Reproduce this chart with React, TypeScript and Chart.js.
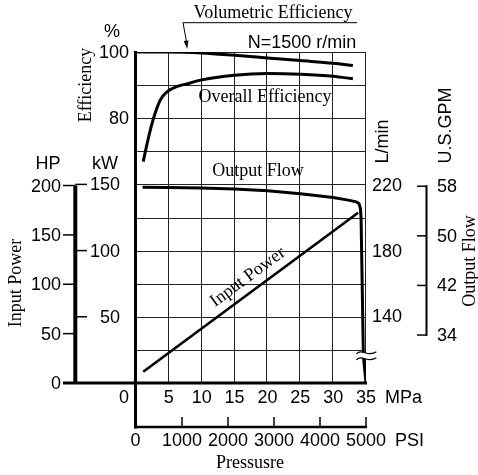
import React, { useEffect, useRef } from "react";
import { Chart, registerables } from "chart.js";

Chart.register(...registerables);

// ---------- tick labels ----------
const MPA_TICKS = [0, 5, 10, 15, 20, 25, 30, 35];
const PSI_TICKS = [0, 1000, 2000, 3000, 4000, 5000];
const EFF_GRID = [10, 20, 30, 40, 50, 60, 70, 80, 90, 100];
const EFF_TICKS = [80, 100];
const KW_TICKS = [50, 100, 150];
const HP_TICKS = [0, 50, 100, 150, 200];
const LPM_TICKS = [140, 180, 220];
const GPM_TICKS = [34, 42, 50, 58];

// ---------- series ----------
// Volumetric efficiency (%) vs pressure (MPa)
const VOL_EFF_MPA = [0, 5, 10, 15, 20, 25, 30, 33];
const VOL_EFF = [100, 100, 99.7, 99.0, 98.2, 97.4, 96.6, 95.9];

// Overall efficiency (%) vs pressure (MPa)
const OVR_EFF_MPA = [1.1, 1.7, 2.3, 3.0, 3.7, 4.75, 6.3, 8.0, 9.8, 15, 20, 25, 30, 33];
const OVR_EFF = [66.9, 72.4, 77.4, 82.0, 85.5, 88.0, 89.6, 90.5, 91.5, 93.0, 93.5, 93.3, 92.7, 91.9];

// Output flow (L/min) vs pressure (MPa)
const FLOW_MPA = [1, 5, 10, 15, 20, 25, 30, 32.5, 33.5, 33.95, 34.15, 34.25, 34.6, 35];
const FLOW_LPM = [218.9, 218.8, 218.5, 217.9, 216.8, 214.9, 212.6, 210.9, 210.0, 208.8, 206.0, 200.0, 116.0, 0];

// Input power (kW) vs pressure (MPa)
const POWER_MPA = [1.1, 33.8];
const POWER_KW = [8.5, 128.6];

// ---------- axis ranges / unit conversions ----------
const KW_PER_HP = 0.7457;
const LPM_PER_GPM = 3.785;
const KW_MAX = 250;
const FLOW_MIN = 99.4; // axis is broken below this value
const FLOW_MAX = 301.5;
const BREAK_INDEX = 12; // flow point where the axis break is drawn

const SANS = '18px "Liberation Sans", Arial, Helvetica, sans-serif';
const SERIF = '18px "Liberation Serif", "Times New Roman", Times, serif';
const INK = "#000";
const GRID = "#222";

function text(
  ctx: CanvasRenderingContext2D,
  s: string,
  x: number,
  y: number,
  font: string,
  align: CanvasTextAlign = "center",
  rot = 0
) {
  ctx.save();
  ctx.translate(x, y);
  ctx.rotate(rot);
  ctx.font = font;
  ctx.fillStyle = INK;
  ctx.textAlign = align;
  ctx.textBaseline = "middle";
  ctx.fillText(s, 0, 0);
  ctx.restore();
}

function line(ctx: CanvasRenderingContext2D, x1: number, y1: number, x2: number, y2: number, w: number) {
  ctx.beginPath();
  ctx.lineWidth = w;
  ctx.moveTo(x1, y1);
  ctx.lineTo(x2, y2);
  ctx.stroke();
}

const decor = {
  id: "decor",
  beforeDatasetsDraw(chart: any) {
    const { ctx, chartArea: a, scales } = chart;
    const xs = scales.x;
    const eff = scales.eff;
    ctx.save();
    ctx.strokeStyle = GRID;
    ctx.lineWidth = 1;
    ctx.beginPath();
    for (const v of MPA_TICKS) {
      if (v === 0) continue;
      const px = Math.round(xs.getPixelForValue(v)) - 0.5;
      ctx.moveTo(px, a.top);
      ctx.lineTo(px, a.bottom);
    }
    for (const v of EFF_GRID) {
      const py = Math.round(eff.getPixelForValue(v)) + 0.5;
      ctx.moveTo(a.left, py);
      ctx.lineTo(a.right, py);
    }
    ctx.stroke();
    ctx.restore();
  },
  afterDatasetsDraw(chart: any) {
    const { ctx, chartArea: a, scales } = chart;
    const xs = scales.x;
    const psi = scales.psi;
    const eff = scales.eff;
    const kw = scales.kw;
    const hp = scales.hp;
    const flow = scales.flow;
    const gpm = scales.gpm;
    ctx.save();
    ctx.strokeStyle = INK;
    ctx.fillStyle = INK;
    ctx.lineCap = "butt";

    const x0 = xs.getPixelForValue(0) - 0.5;
    const x35 = xs.getPixelForValue(35);
    const yBase = kw.getPixelForValue(0);
    const psiY = 427;

    // break symbol on the flow line
    {
      const bx = xs.getPixelForValue(FLOW_MPA[BREAK_INDEX]);
      const by = flow.getPixelForValue(FLOW_LPM[BREAK_INDEX]);
      const l = bx - 7;
      const r = bx + 13;
      const wave = (yy: number, first: boolean) => {
        if (first) ctx.moveTo(l, yy + 1);
        ctx.bezierCurveTo(l + 6, yy - 5, l + 11, yy + 5, r, yy - 1);
      };
      ctx.beginPath();
      ctx.moveTo(l, by - 3 + 1);
      ctx.bezierCurveTo(l + 6, by - 3 - 5, l + 11, by - 3 + 5, r, by - 3 - 1);
      ctx.lineTo(r, by + 3 - 1);
      ctx.bezierCurveTo(l + 11, by + 3 + 5, l + 6, by + 3 - 5, l, by + 3 + 1);
      ctx.closePath();
      ctx.fillStyle = "#fff";
      ctx.fill();
      ctx.fillStyle = INK;
      ctx.lineWidth = 1.2;
      ctx.beginPath();
      wave(by - 3, true);
      ctx.stroke();
      ctx.beginPath();
      wave(by + 3, true);
      ctx.stroke();
    }

    // kW axis (vertical thick line through 0 MPa), down to PSI axis
    line(ctx, x0, a.top - 1, x0, psiY + 1.5, 3);
    // baseline
    line(ctx, 63, yBase, x35 + 1, yBase, 3);
    // PSI axis
    line(ctx, x0 - 1.5, psiY, psi.getPixelForValue(5000) + 1, psiY, 2.5);
    for (const v of PSI_TICKS) {
      if (v === 0) continue;
      const px = psi.getPixelForValue(v);
      line(ctx, px, psiY, px, psiY - 10, 1.5);
    }

    // HP bar
    const hpX = 75.3;
    line(ctx, hpX, hp.getPixelForValue(200), hpX, yBase, 4);
    for (const v of HP_TICKS) {
      if (v === 0) continue;
      const py = hp.getPixelForValue(v);
      line(ctx, 63, py, hpX, py, 1.5);
    }
    for (const v of KW_TICKS) {
      const py = kw.getPixelForValue(v);
      line(ctx, hpX, py, 87, py, 1.5);
    }

    // GPM axis
    const gx = 426.5;
    line(ctx, gx, gpm.getPixelForValue(58) - 1, gx, gpm.getPixelForValue(34) + 1, 2);
    for (const v of GPM_TICKS) {
      const py = gpm.getPixelForValue(v);
      line(ctx, 417, py, gx, py, 1.5);
    }

    // Volumetric efficiency callout
    const tipX = xs.getPixelForValue(7.8);
    const tipY = eff.getPixelForValue(100) - 3;
    line(ctx, 183, 22.7, 357, 22.7, 1);
    line(ctx, 183, 22.7, tipX - 0.5, tipY - 6, 1);
    ctx.beginPath();
    ctx.moveTo(tipX, tipY);
    ctx.lineTo(tipX - 3.6, tipY - 8);
    ctx.lineTo(tipX + 1.2, tipY - 8.6);
    ctx.closePath();
    ctx.fill();

    // ---- texts ----
    text(ctx, "Volumetric Efficiency", 273, 13, SERIF);
    text(ctx, "%", 112, 32, SANS);
    for (const v of EFF_TICKS) text(ctx, String(v), 129, eff.getPixelForValue(v) + 1, SANS, "right");
    text(ctx, "Efficiency", 86, 85, SERIF, "center", -Math.PI / 2);
    text(ctx, "N=1500 r/min", 302, 43, SANS);
    text(ctx, "Overall Efficiency", 265, 97, SERIF);
    text(ctx, "Output Flow", 258, 171, SERIF);

    // Input power label along its line
    {
      const p0x = xs.getPixelForValue(POWER_MPA[0]);
      const p0y = kw.getPixelForValue(POWER_KW[0]);
      const p1x = xs.getPixelForValue(POWER_MPA[1]);
      const p1y = kw.getPixelForValue(POWER_KW[1]);
      const ang = Math.atan2(p1y - p0y, p1x - p0x);
      const t = 0.525;
      const fx = p0x + (p1x - p0x) * t;
      const fy = p0y + (p1y - p0y) * t;
      const off = 13.8;
      const cx = fx + Math.sin(ang) * off;
      const cy = fy - Math.cos(ang) * off;
      text(ctx, "Input Power", cx, cy, SERIF, "center", ang);
    }

    // left axes
    text(ctx, "HP", 48, 164, SANS);
    text(ctx, "kW", 105, 164, SANS);
    for (const v of HP_TICKS) text(ctx, String(v), 61, hp.getPixelForValue(v) + 1, SANS, "right");
    for (const v of KW_TICKS) text(ctx, String(v), 120, kw.getPixelForValue(v) + 1, SANS, "right");
    text(ctx, "Input Power", 16, 283, SERIF, "center", -Math.PI / 2);

    // bottom axes
    for (const v of MPA_TICKS) {
      const px = v === 0 ? x0 - 11.5 : xs.getPixelForValue(v);
      text(ctx, String(v), px, 398.5, SANS);
    }
    text(ctx, "MPa", 385, 398.5, SANS, "left");
    for (const v of PSI_TICKS) text(ctx, String(v), psi.getPixelForValue(v) - (v === 0 ? 0.5 : 0), 441.5, SANS);
    text(ctx, "PSI", 395, 441.5, SANS, "left");
    text(ctx, "Pressusre", 250, 463, SERIF);

    // right axes
    text(ctx, "L/min", 383.5, 163.5, SANS, "left", -Math.PI / 2);
    text(ctx, "U.S.GPM", 446.5, 163.5, SANS, "left", -Math.PI / 2);
    for (const v of LPM_TICKS) text(ctx, String(v), 372, flow.getPixelForValue(v) + 1, SANS, "left");
    for (const v of GPM_TICKS) text(ctx, String(v), 437, gpm.getPixelForValue(v) + 1, SANS, "left");
    text(ctx, "Output Flow", 470, 261, SERIF, "center", -Math.PI / 2);

    ctx.restore();
  },
};

export default function App() {
  const ref = useRef<HTMLCanvasElement>(null);
  useEffect(() => {
    const canvas = ref.current;
    if (!canvas) return;
    const pts = (xs: number[], ys: number[], floor = -Infinity) =>
      xs.map((x, i) => ({ x, y: Math.max(ys[i], floor) }));
    const base = {
      borderColor: INK,
      backgroundColor: INK,
      pointRadius: 0,
      fill: false,
      xAxisID: "x",
    };
    const chart = new Chart(canvas, {
      type: "line",
      data: {
        datasets: [
          {
            ...base,
            label: "Volumetric Efficiency",
            data: pts(VOL_EFF_MPA, VOL_EFF),
            yAxisID: "eff",
            borderWidth: 3,
            cubicInterpolationMode: "monotone",
          },
          {
            ...base,
            label: "Overall Efficiency",
            data: pts(OVR_EFF_MPA, OVR_EFF),
            yAxisID: "eff",
            borderWidth: 3,
            cubicInterpolationMode: "monotone",
          },
          {
            ...base,
            label: "Output Flow",
            // values below the broken part of the axis are drawn at the axis floor
            data: pts(FLOW_MPA, FLOW_LPM, FLOW_MIN),
            yAxisID: "flow",
            borderWidth: 3,
            tension: 0,
            borderJoinStyle: "round",
          },
          {
            ...base,
            label: "Input Power",
            data: pts(POWER_MPA, POWER_KW),
            yAxisID: "kw",
            borderWidth: 2.6,
            tension: 0,
          },
        ],
      } as any,
      options: {
        responsive: false,
        animation: false,
        devicePixelRatio: 1,
        events: [],
        layout: { padding: { left: 136, right: 112, top: 52, bottom: 92 } },
        plugins: { legend: { display: false }, tooltip: { enabled: false }, title: { display: false } },
        scales: {
          x: { type: "linear", position: "bottom", min: 0, max: 35, display: false },
          psi: { type: "linear", axis: "x", position: "bottom", min: 0, max: 5000, display: false },
          eff: { type: "linear", position: "left", min: 0, max: 100, display: false },
          kw: { type: "linear", position: "left", min: 0, max: KW_MAX, display: false },
          hp: { type: "linear", position: "left", min: 0, max: KW_MAX / KW_PER_HP, display: false },
          flow: { type: "linear", position: "right", min: FLOW_MIN, max: FLOW_MAX, display: false },
          gpm: {
            type: "linear",
            position: "right",
            min: FLOW_MIN / LPM_PER_GPM,
            max: FLOW_MAX / LPM_PER_GPM,
            display: false,
          },
        },
      } as any,
      plugins: [decor],
    });
    return () => chart.destroy();
  }, []);
  return (
    <div style={{ position: "absolute", left: 0, top: 0, width: 478, height: 475, background: "#fff" }}>
      <canvas ref={ref} width={478} height={475} style={{ display: "block", width: 478, height: 475 }} />
    </div>
  );
}
